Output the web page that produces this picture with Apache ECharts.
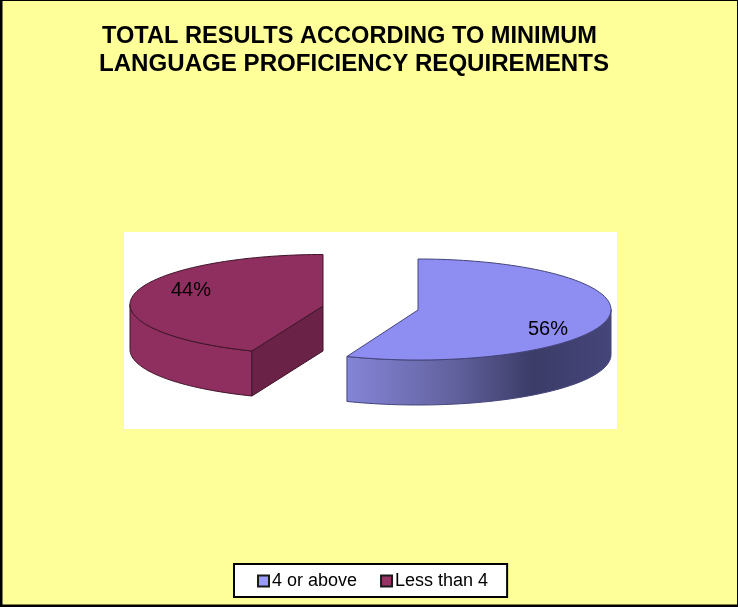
<!DOCTYPE html>
<html>
<head>
<meta charset="utf-8">
<style>html,body{margin:0;padding:0;background:#fff}#c{width:738px;height:607px}</style>
<script src="https://cdn.jsdelivr.net/npm/echarts@6/dist/echarts.min.js"></script>
</head>
<body>
<div id="c"></div>
<script>
const categories = ['4 or above', 'Less than 4'];
const shares = [56, 44];
const titleLines = ['TOTAL RESULTS ACCORDING TO MINIMUM', 'LANGUAGE PROFICIENCY REQUIREMENTS'];

// Projection of the tilted pie: each exploded wedge has its own apex and rim ellipse.
const RX = 193, DEPTH = 45;
const apexes = [[418, 310], [323, 306]];
const rimCentreY = [309.5, 304.5];
const rimRY = [50.5, 50];
const labelAt = [[548, 329], [191, 290]];
const topFill = ['#8E8EF2', '#8F2F5F'];
const legendFill = ['#9999FF', '#993366'];
const outline = ['#44447a', '#3f1529'];

const total = shares.reduce((a, b) => a + b, 0);
const toAngle = v => (v / total) * Math.PI * 2;

function rim(idx, from, to, dy) {
  const cx = apexes[idx][0];
  const pts = [];
  const n = Math.max(2, Math.ceil((to - from) / 0.03));
  for (let i = 0; i <= n; i++) {
    const a = from + (to - from) * i / n;
    pts.push([cx + RX * Math.sin(a), rimCentreY[idx] - rimRY[idx] * Math.cos(a) + dy]);
  }
  return pts;
}

function wedge(idx) {
  const c = apexes[idx];
  const start = toAngle(shares.slice(0, idx).reduce((a, b) => a + b, 0));
  const end = start + toAngle(shares[idx]);
  const children = [];

  // Front wall: only the part of the rim facing the viewer (90deg to 270deg).
  const wallFrom = Math.max(start, Math.PI / 2);
  const wallTo = Math.min(end, Math.PI * 1.5);
  if (wallTo > wallFrom) {
    const wall = rim(idx, wallFrom, wallTo, 0).concat(rim(idx, wallFrom, wallTo, DEPTH).reverse());
    const fill = idx === 0 ? {
      type: 'linear', x: 1, y: 0, x2: 0, y2: 0,
      colorStops: [
        { offset: 0, color: '#45457a' },
        { offset: 0.3, color: '#3c3c68' },
        { offset: 0.6, color: '#62629f' },
        { offset: 1, color: '#8585d8' }
      ]
    } : '#8F2F5F';
    children.push({ type: 'polygon', shape: { points: wall }, style: { fill, stroke: outline[idx], lineWidth: 1 } });
  }

  // Cut face, visible where the wedge ends on the front-left of the pie.
  if (idx === 1) {
    const p = rim(idx, start, start, 0)[0];
    children.push({
      type: 'polygon',
      shape: { points: [c, p, [p[0], p[1] + DEPTH], [c[0], c[1] + DEPTH]] },
      style: { fill: '#6A2246', stroke: outline[idx], lineWidth: 1 }
    });
  }

  // Top face.
  const top = [c].concat(rim(idx, start, end, 0));
  children.push({ type: 'polygon', shape: { points: top }, style: { fill: topFill[idx], stroke: outline[idx], lineWidth: 1 } });

  // Percentage label.
  children.push({
    type: 'text',
    style: {
      x: labelAt[idx][0], y: labelAt[idx][1],
      text: shares[idx] + '%',
      fill: '#000', font: '20px "Liberation Sans"',
      align: 'center', verticalAlign: 'middle'
    }
  });
  return { type: 'group', children };
}

const chart = echarts.init(document.getElementById('c'), null, { renderer: 'canvas' });
chart.setOption({
  animation: false,
  backgroundColor: '#000',
  graphic: [
    { type: 'rect', z: -10, shape: { x: 2.5, y: 1, width: 734.5, height: 603.5 },
      style: { fill: '#FFFF99' } },
    { type: 'rect', z: -9, shape: { x: 124, y: 232, width: 493, height: 197 },
      style: { fill: '#fff' } }
  ],
  title: [
    {
      text: titleLines[0], left: 97, top: 19,
      textStyle: { fontFamily: 'Liberation Sans', fontWeight: 'bold', fontSize: 23.6, color: '#000' }
    },
    {
      text: titleLines[1], left: 94, top: 47,
      textStyle: { fontFamily: 'Liberation Sans', fontWeight: 'bold', fontSize: 24.1, color: '#000' }
    }
  ],
  legend: {
    data: categories,
    left: 234, top: 564,
    orient: 'horizontal',
    selectedMode: false,
    backgroundColor: '#fff',
    borderColor: '#000',
    borderWidth: 2,
    borderRadius: 0,
    padding: [8, 19, 7, 23],
    itemGap: 23,
    itemWidth: 11,
    itemHeight: 11,
    icon: 'rect',
    textStyle: { fontFamily: 'Liberation Sans', fontSize: 18, color: '#000', padding: [0, 0, 0, -2] }
  },
  series: categories.map((name, i) => ({
    type: 'custom',
    name,
    coordinateSystem: 'none',
    silent: true,
    z: i === 1 ? 3 : 2,
    itemStyle: { color: legendFill[i], borderColor: '#1a1a1a', borderWidth: 2 },
    data: [{ name, value: shares[i] }],
    renderItem: () => wedge(i)
  }))
});
</script>
</body>
</html>
